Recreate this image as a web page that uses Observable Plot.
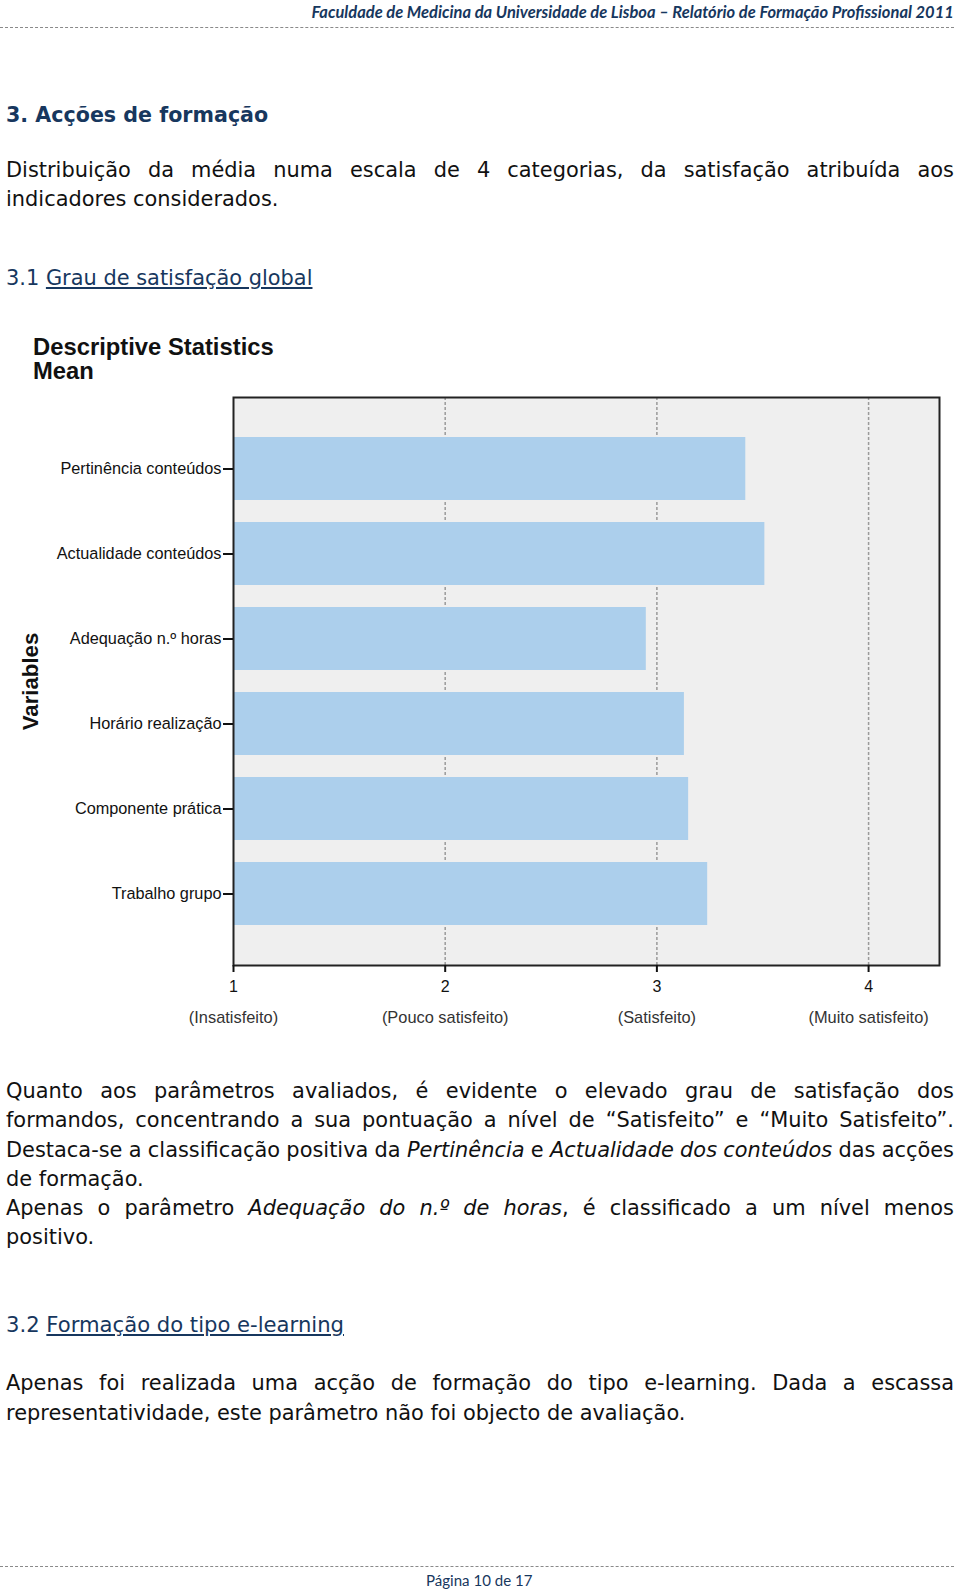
<!DOCTYPE html>
<html><head><meta charset="utf-8">
<script src="https://cdn.jsdelivr.net/npm/d3@7"></script>
<script src="https://cdn.jsdelivr.net/npm/@observablehq/plot@0.6"></script>
<style>
body{margin:0;background:#fff;}
#page{position:relative;width:960px;height:1591px;overflow:hidden;font-family:"DejaVu Sans",Verdana,sans-serif;color:#111;background:#fff;}
.ln{position:absolute;white-space:nowrap;line-height:24px;height:24px;}
.navy{color:#17375e;}
.dash{position:absolute;left:0;width:954px;height:0;border-top:1px dashed #8a8a8a;}
#chartTitle{position:absolute;left:33px;top:334.5px;font-family:"Liberation Sans",Arial,sans-serif;font-weight:bold;font-size:23.8px;line-height:24px;color:#111;}
#chart{position:absolute;left:0;top:390px;}
</style></head><body><div id="page"></div>
<script>
// ---- chart data ----
const variables = ["Pertinência conteúdos","Actualidade conteúdos","Adequação n.º horas","Horário realização","Componente prática","Trabalho grupo"];
const means = [3.42, 3.51, 2.95, 3.13, 3.15, 3.24];
const tickValues = [1, 2, 3, 4];
const gridValues = [2, 3, 4];
const tickCategories = ["(Insatisfeito)","(Pouco satisfeito)","(Satisfeito)","(Muito satisfeito)"];

// ---- page text ----
const headerText = "Faculdade de Medicina da Universidade de Lisboa – Relatório de Formação Profissional 2011";
const footerText = "Página 10 de 17";

const page = document.getElementById("page");
function add(html, cls, styles){
  const d = document.createElement("div");
  d.className = cls; d.innerHTML = html;
  Object.assign(d.style, styles);
  page.appendChild(d); return d;
}
function fitFont(el, target){
  const w = el.getBoundingClientRect().width;
  const fs = parseFloat(getComputedStyle(el).fontSize);
  el.style.fontSize = (fs * target / w) + "px";
}
function justify(el, target){
  const w = el.getBoundingClientRect().width;
  const n = (el.textContent.match(/ /g) || []).length;
  if (n) el.style.wordSpacing = ((target - w) / n) + "px";
}

// header
const hdr = add(headerText, "ln navy", {top:"0px", left:"311.5px", fontFamily:"Lato, 'Open Sans', sans-serif", fontWeight:"bold", fontStyle:"italic", fontSize:"15px"});
fitFont(hdr, 642.5);
add("", "dash", {top:"27px"});

// body font size from a reference line
const probe = add("representatividade, este parâmetro não foi objecto de avaliação.", "ln", {left:"6px", top:"1400.6px", fontSize:"20px"});
fitFont(probe, 680);
const bfs = probe.style.fontSize;

const W = 948;
function bodyLine(html, center, just, extra){
  const el = add(html, "ln", Object.assign({left:"6px", top:(center-12)+"px", fontSize:bfs}, extra||{}));
  if (just) justify(el, W);
  return el;
}
const h1 = bodyLine("3. Acções de formação", 114.7, false, {fontWeight:"bold", color:"#17375e"});
fitFont(h1, 262);
bodyLine("Distribuição da média numa escala de 4 categorias, da satisfação atribuída aos", 169.5, true);
bodyLine("indicadores considerados.", 199, false);
const s31 = bodyLine("3.1 <u>Grau de satisfação global</u>", 278, false, {color:"#17375e"});
fitFont(s31, 306.5);

bodyLine("Quanto aos parâmetros avaliados, é evidente o elevado grau de satisfação dos", 1090.9, true);
bodyLine("formandos, concentrando a sua pontuação a nível de “Satisfeito” e “Muito Satisfeito”.", 1120.3, true);
bodyLine("Destaca-se a classificação positiva da <i>Pertinência</i> e <i>Actualidade dos conteúdos</i> das acções", 1149.8, true);
bodyLine("de formação.", 1179.2, false);
bodyLine("Apenas o parâmetro <i>Adequação do n.º de horas</i>, é classificado a um nível menos", 1207.6, true);
bodyLine("positivo.", 1237, false);
const s32 = bodyLine("3.2 <u>Formação do tipo e-learning</u>", 1325.3, false, {color:"#17375e"});
fitFont(s32, 338);
bodyLine("Apenas foi realizada uma acção de formação do tipo e-learning. Dada a escassa", 1383.2, true);

add("", "dash", {top:"1565.5px"});
const ft = add(footerText, "ln navy", {top:"1568px", left:"426px", fontFamily:"Lato, 'Open Sans', sans-serif", fontSize:"14px"});
fitFont(ft, 106.5);

// chart title
add("Descriptive Statistics<br>Mean", "", {}).id = "chartTitle";

// chart
const data = variables.map((v, i) => ({variable: v, mean: means[i]}));
const chart = Plot.plot({
  width: 960, height: 640,
  marginLeft: 233, marginRight: 21, marginTop: 7, marginBottom: 65,
  style: {fontFamily: '"Liberation Sans", Arial, sans-serif', fontSize: "16px", color: "#111", background: "transparent", overflow: "visible"},
  x: {domain: [1, 4.335], label: null},
  y: {domain: variables, paddingInner: 0.262, paddingOuter: 0.466, label: null},
  marks: [
    Plot.frame({fill: "#efefef"}),
    Plot.ruleX(gridValues, {stroke: "#9a9a9a", strokeWidth: 1.5, strokeDasharray: "3,2"}),
    Plot.barX(data, {x1: 1, x2: "mean", y: "variable", fill: "#accfec"}),
    Plot.frame({stroke: "#222", strokeWidth: 2}),
    Plot.axisX({ticks: tickValues, tickFormat: d3.format("d"), tickSize: 7, tickPadding: 8, fontSize: 16, strokeWidth: 2, label: null}),
    Plot.axisY({tickSize: 10, tickPadding: 2, strokeWidth: 2, fontSize: 16.3, label: null}),
    Plot.text(tickValues, {x: d => d, text: (d, i) => tickCategories[i], frameAnchor: "bottom", dy: 57, fill: "#333", fontSize: 16.4}),
    Plot.text(["Variables"], {text: d => d, frameAnchor: "left", textAnchor: "middle", rotate: -90, dx: -203, fontWeight: "bold", fontSize: 22.2, fill: "#111"})
  ]
});
chart.id = "chart";
page.appendChild(chart);
</script>
</body></html>
